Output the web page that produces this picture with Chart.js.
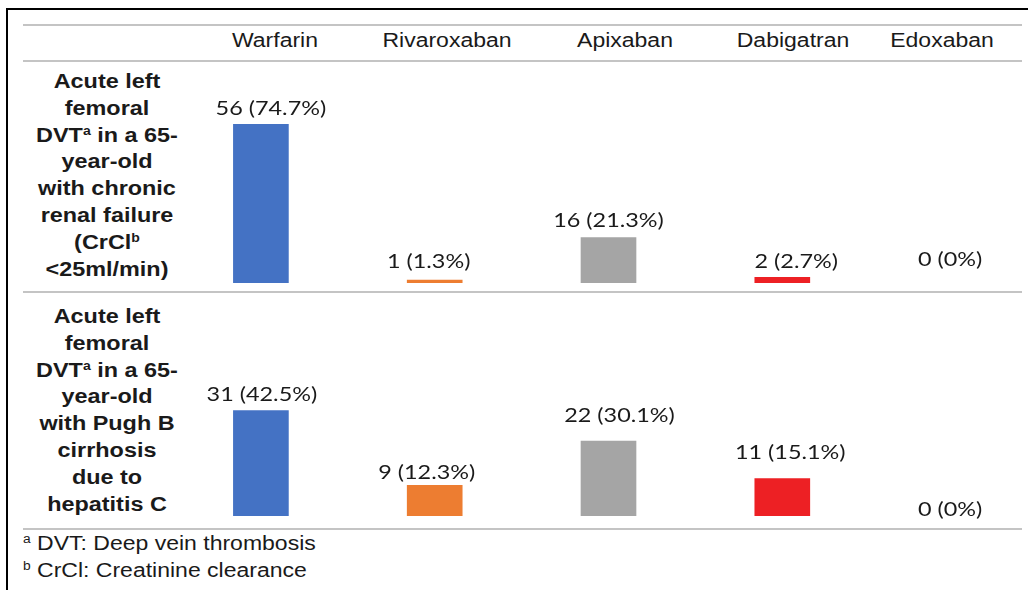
<!DOCTYPE html>
<html>
<head>
<meta charset="utf-8">
<script src="https://cdn.jsdelivr.net/npm/chart.js@4.4.1/dist/chart.umd.min.js"></script>
<style>
  body { margin: 0; width: 1028px; height: 590px; overflow: hidden; background: #fff; position: relative;
         font-family: "Liberation Sans", Arial, sans-serif; color: #1a1a1a; }
  .frame { position: absolute; left: 6px; top: 8px; width: 1200px; height: 800px;
           border-left: 2px solid #000; border-top: 2px solid #000; }
  .rule { position: absolute; left: 23px; width: 999px; height: 2px; background: #c4c4c4; }
  .hdr { position: absolute; top: 30px; font-size: 20px; line-height: 20px; white-space: nowrap;
         transform: translateX(-50%) scaleX(1.15); }
  .rowlab { position: absolute; left: 17px; width: 180px; text-align: center; font-weight: bold;
            font-size: 20px; line-height: 26.8px; transform: scaleX(1.17); }
  .rowlab sup, .note sup { font-size: 12px; line-height: 0; vertical-align: 7px; }
  .note { position: absolute; left: 23px; font-size: 20px; line-height: 27px; white-space: nowrap;
          transform-origin: left center; transform: scaleX(1.15); }
  .box { position: absolute; left: 174px; width: 869px; }
</style>
</head>
<body>
<div class="frame"></div>
<div class="rule" style="top:24px"></div>
<div class="rule" style="top:60px"></div>
<div class="rule" style="top:291px"></div>
<div class="rule" style="top:528px"></div>

<div class="rowlab" style="top:68px">Acute left<br>femoral<br>DVT<sup>a</sup> in a 65-<br>year-old<br>with chronic<br>renal failure<br>(CrCl<sup>b</sup><br>&lt;25ml/min)</div>
<div class="rowlab" style="top:303px">Acute left<br>femoral<br>DVT<sup>a</sup> in a 65-<br>year-old<br>with Pugh B<br>cirrhosis<br>due to<br>hepatitis C</div>

<div class="note" style="top:530px"><sup>a</sup> DVT: Deep vein thrombosis</div>
<div class="note" style="top:557px"><sup>b</sup> CrCl: Creatinine clearance</div>

<!-- canvases run 12px below the baseline so low labels are not cut off -->
<div class="box" style="top:65px;height:230px"><canvas id="renal"></canvas></div>
<div class="box" style="top:296px;height:232px"><canvas id="hepatic"></canvas></div>

<script>
// drugs across the top
var drugs = ["Warfarin", "Rivaroxaban", "Apixaban", "Dabigatran", "Edoxaban"];

// row 1: chronic renal failure
var renalCounts = [56, 1, 16, 2, 0];
var renalPct = ["74.7", "1.3", "21.3", "2.7", "0"];

// row 2: Pugh B cirrhosis
var hepCounts = [31, 9, 22, 11, 0];
var hepPct = ["42.5", "12.3", "30.1", "15.1", "0"];

var barColors = ["#4472C4", "#ED7D31", "#A5A5A5", "#ED2024", "#FFFFFF"];
var headerX = [275, 447, 625, 793, 942];

// label nudges (dx, gap above bar), the original was placed by hand
var renalShift = [[10, 16], [-6, 19], [0, 17], [14, 16], [-6, 23]];
var hepShift = [[1, 16], [-8, 13], [11, 26], [8, 26], [-6, 6]];

drugs.forEach(function(d, i) {
  var el = document.createElement("div");
  el.className = "hdr";
  el.style.left = headerX[i] + "px";
  el.textContent = d;
  document.body.appendChild(el);
});

var valueLabels = {
  id: "valueLabels",
  afterDatasetsDraw: function(chart, args, opts) {
    var ctx = chart.ctx;
    var meta = chart.getDatasetMeta(0);
    var vals = chart.data.datasets[0].data;
    ctx.save();
    ctx.font = "20px Lato";
    ctx.fillStyle = "#1a1a1a";
    ctx.textAlign = "center";
    ctx.textBaseline = "middle";
    meta.data.forEach(function(bar, i) {
      var s = opts.shift[i];
      ctx.save();
      ctx.translate(bar.x + s[0], bar.y - s[1]);
      ctx.scale(1.17, 1);
      ctx.fillText(vals[i] + " (" + opts.pct[i] + "%)", 0, 0);
      ctx.restore();
    });
    ctx.restore();
  }
};

function makeChart(id, counts, pct, yMax, shift) {
  return new Chart(document.getElementById(id), {
    type: "bar",
    data: {
      labels: drugs,
      datasets: [{
        data: counts,
        backgroundColor: barColors,
        borderWidth: 0,
        barThickness: 55
      }]
    },
    options: {
      responsive: true,
      maintainAspectRatio: false,
      animation: false,
      layout: { padding: { top: 0, left: 0, right: 0, bottom: 12 } },
      scales: {
        x: { display: false },
        y: { display: false, min: 0, max: yMax }
      },
      plugins: {
        legend: { display: false },
        tooltip: { enabled: false },
        valueLabels: { pct: pct, shift: shift }
      }
    },
    plugins: [valueLabels]
  });
}

makeChart("renal", renalCounts, renalPct, 77, renalShift);
makeChart("hepatic", hepCounts, hepPct, 64.7, hepShift);
</script>
</body>
</html>
